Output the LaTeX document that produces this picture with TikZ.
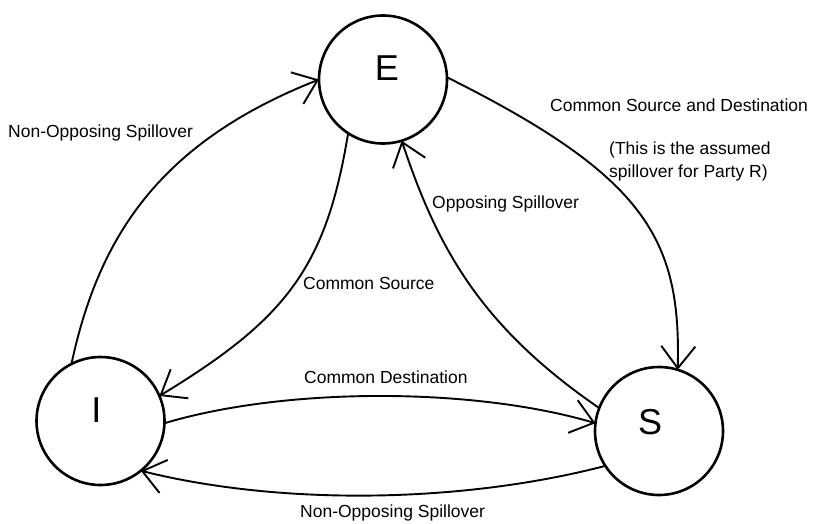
\documentclass[tikz,border=0pt]{standalone}
\usepackage{fontspec}
\setmainfont{Liberation Sans}
\usetikzlibrary{arrows.meta}
\begin{document}
\begin{tikzpicture}[x=1pt,y=-1pt,
  state/.style={circle,draw=black,fill=white,line width=2.6pt,minimum size=128pt,inner sep=0pt,outer sep=0pt},
  letter/.style={font=\fontsize{36}{40}\selectfont,inner sep=0pt},
  lbl/.style={font=\fontsize{17.5}{23}\selectfont,inner sep=0pt,anchor=west},
  edge/.style={line width=1.9pt,-{Straight Barb[length=22pt,width=34pt]}}]
\useasboundingbox (0,0) rectangle (814,523);
\fill[white] (0,0) rectangle (814,523);
\node[state] (E) at (383,79.5) {};
\node[state] (I) at (100.5,421) {};
\node[state] (S) at (659,431) {};
\node[letter] (tE) at ([shift={(4,-11)}]E.center) {E};
\node[letter] (tI) at ([shift={(-4,-11)}]I.center) {I};
\node[letter] (tS) at ([shift={(-9,-9)}]S.center) {S};
\draw[edge] (I.117.7) .. controls (99,235) and (161,142) .. (E.180);
\draw[edge] (E.237.5) .. controls (326,268) and (286,319) .. (I.23.6);
\draw[edge] (S.159.6) .. controls (482,327.5) and (438,250) .. (E.287);
\draw[edge] (E.2) .. controls (647,177) and (681,240) .. (S.73.6);
\draw[edge] (I.358.2) .. controls (285,387) and (473,387) .. (S.173);
\draw[edge] (S.213.5) .. controls (463,503) and (282,506) .. (I.309.7);
\node[lbl] (l1) at (8,133) {Non-Opposing Spillover};
\node[lbl] (l2) at (550,105) {Common Source and Destination};
\node[lbl,align=left] (l3) at (609,161.5) {(This is the assumed\\spillover for Party R)};
\node[lbl] (l4) at (432,204) {Opposing Spillover};
\node[lbl] (l5) at (303,283) {Common Source};
\node[lbl] (l6) at (304,377) {Common Destination};
\node[lbl] (l7) at (300,513) {Non-Opposing Spillover};
\end{tikzpicture}
\end{document}
